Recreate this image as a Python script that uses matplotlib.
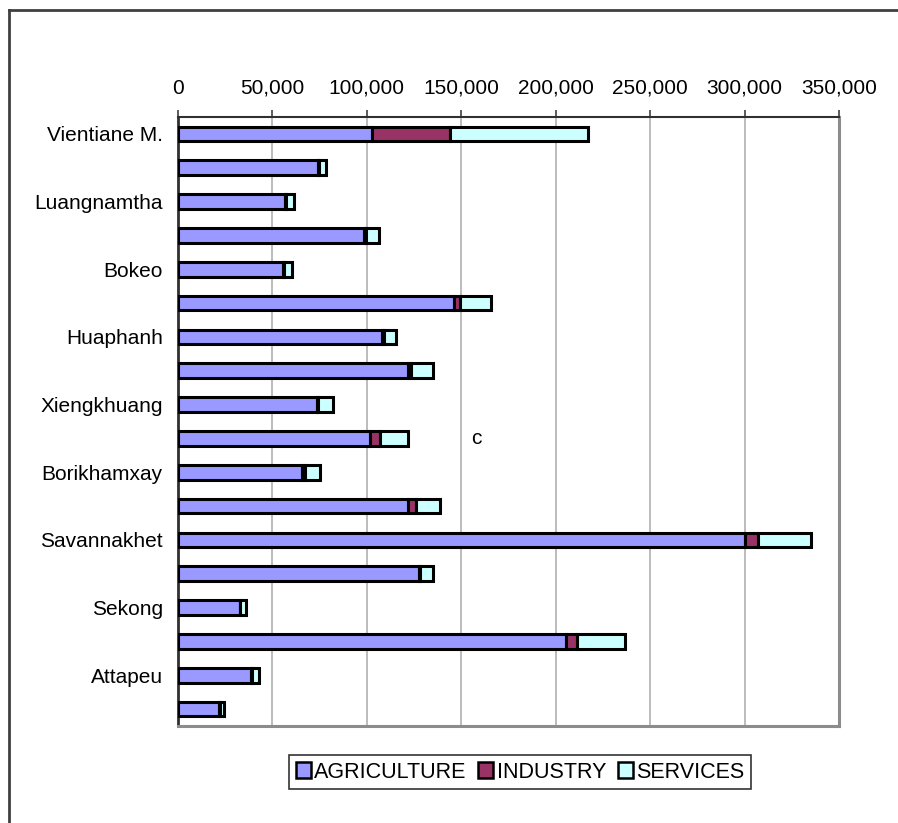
import matplotlib
matplotlib.use("Agg")
import matplotlib.pyplot as plt
import numpy as np
from matplotlib.ticker import FuncFormatter

plt.rcParams['font.family'] = ['Liberation Sans', 'DejaVu Sans']

provinces = ["Vientiane M.", "Phongsaly", "Luangnamtha", "Oudomxay", "Bokeo",
             "Luangprabang", "Huaphanh", "Xayabury", "Xiengkhuang", "Vientiane",
             "Borikhamxay", "Khammuane", "Savannakhet", "Saravane", "Sekong",
             "Champasack", "Attapeu", "Xaysomboun"]
tick_labels = ["Vientiane M.", "", "Luangnamtha", "", "Bokeo", "", "Huaphanh", "",
               "Xiengkhuang", "", "Borikhamxay", "", "Savannakhet", "", "Sekong", "",
               "Attapeu", ""]
agriculture = [102800, 74100, 56900, 98600, 55600, 146000, 108100, 121700, 73600,
               101800, 65400, 122000, 300200, 127800, 32600, 205700, 38500, 21600]
industry = [41200, 700, 500, 700, 600, 3300, 900, 1500, 500,
            5200, 1600, 4100, 6900, 400, 400, 5800, 500, 400]
services = [73100, 3700, 3900, 6900, 4000, 16400, 6300, 11800, 7900,
            15000, 8000, 12400, 28200, 6900, 3000, 25400, 4100, 2100]
series_names = ["AGRICULTURE", "INDUSTRY", "SERVICES"]
colors = ["#9999FF", "#993366", "#CCFFFF"]
x_ticks = [0, 50000, 100000, 150000, 200000, 250000, 300000, 350000]

FS = 15

fig = plt.figure(figsize=(8.98, 8.23), dpi=100)
ax = fig.add_axes([178/898, 1-726/823, (839-178)/898, (726-117)/823])

y = np.arange(len(provinces))
left = np.zeros(len(provinces))
for vals, name, col in zip([agriculture, industry, services], series_names, colors):
    ax.barh(y, vals, left=left, height=0.43, color=col, edgecolor='black',
            linewidth=2.2, label=name, zorder=3)
    left = left + np.array(vals)

ax.set_xlim(0, 350000)
ax.set_ylim(len(provinces) - 0.5, -0.5)
ax.set_yticks(y)
ax.set_yticklabels(tick_labels, fontsize=FS)
ax.tick_params(axis='y', length=0, pad=11)
ax.xaxis.tick_top()
ax.set_xticks(x_ticks)
ax.xaxis.set_major_formatter(FuncFormatter(lambda v, p: f"{int(v):,}"))
ax.tick_params(axis='x', labelsize=FS, length=5, width=1.2, color='#404040', pad=9)
ax.grid(axis='x', color='#b0b0b0', linewidth=1.2, zorder=0)
ax.spines['left'].set_color('#303030')
ax.spines['left'].set_linewidth(2)
ax.spines['top'].set_color('#303030')
ax.spines['top'].set_linewidth(1.5)
for s in ['right', 'bottom']:
    ax.spines[s].set_color('#8c8c8c')
    ax.spines[s].set_linewidth(2.2)

ax.text(155000, 9, "c", fontsize=FS, va='center', ha='left')

leg = fig.legend(loc='center', bbox_to_anchor=(520/898, 1-772/823), ncol=3,
                 fontsize=15.5, frameon=True, fancybox=False, handlelength=0.7,
                 handleheight=0.7, handletextpad=0.15, columnspacing=0.55,
                 borderpad=0.3, borderaxespad=0)
leg.get_frame().set_edgecolor('black')
leg.get_frame().set_linewidth(1.2)
for h in leg.legend_handles:
    h.set_linewidth(1.8)

# outer chart border (left and top visible)
fig.add_artist(plt.Line2D([9/898, 9/898], [0, 1-9.5/823], transform=fig.transFigure,
                          color='#404040', linewidth=2))
fig.add_artist(plt.Line2D([9/898, 1], [1-9.5/823, 1-9.5/823], transform=fig.transFigure,
                          color='#404040', linewidth=2))

fig.savefig("out.png", dpi=100)
